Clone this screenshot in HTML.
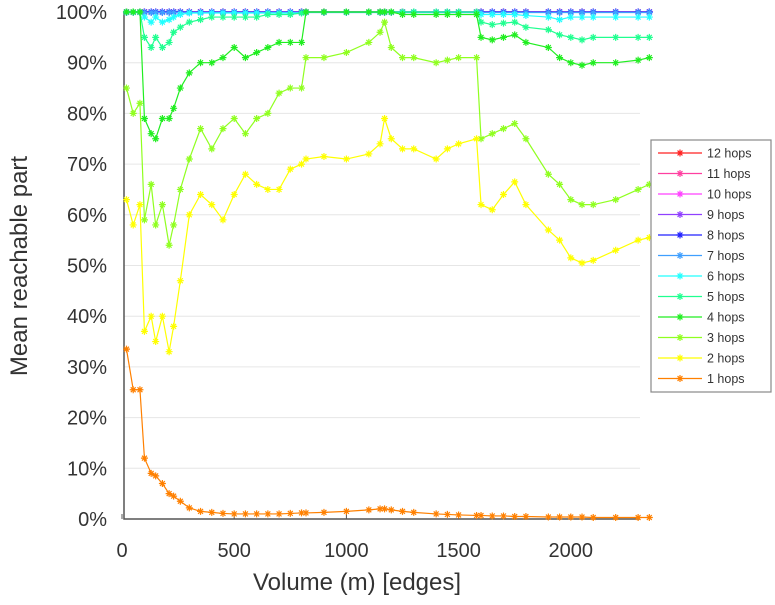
<!DOCTYPE html>
<html><head><meta charset="utf-8"><style>
body{margin:0;background:#fff}
svg text{font-family:"Liberation Sans",sans-serif;fill:#333}
</style></head><body>
<svg id="c" width="775" height="600"></svg>
<script>
const xs=[20,50,80,100,130,150,180,210,230,260,300,350,400,450,500,550,600,650,700,750,800,820,900,1000,1100,1150,1170,1200,1250,1300,1400,1450,1500,1580,1600,1650,1700,1750,1800,1900,1950,2000,2050,2100,2200,2300,2350];
const hops1=[33.5,25.5,25.5,12,9,8.5,7,5,4.5,3.5,2.2,1.5,1.3,1.1,1,1,1,1,1,1.1,1.2,1.2,1.3,1.5,1.8,2,2,1.8,1.5,1.3,1,0.9,0.8,0.7,0.7,0.6,0.6,0.5,0.5,0.4,0.4,0.4,0.4,0.3,0.3,0.3,0.3];
const hops2=[63,58,62,37,40,35,40,33,38,47,60,64,62,59,64,68,66,65,65,69,70,71,71.5,71,72,74,79,75,73,73,71,73,74,75,62,61,64,66.5,62,57,55,51.5,50.5,51,53,55,55.5];
const hops3=[85,80,82,59,66,58,62,54,58,65,71,77,73,77,79,76,79,80,84,85,85,91,91,92,94,96,98,93,91,91,90,90.5,91,91,75,76,77,78,75,68,66,63,62,62,63,65,66];
const hops4=[100,100,100,79,76,75,79,79,81,85,88,90,90,91,93,91,92,93,94,94,94,100,100,100,100,100,100,100,99.5,99.5,99.5,99.5,99.5,99.5,95,94.5,95,95.5,94,93,91,90,89.5,90,90,90.5,91];
const hops5=[100,100,100,95,93,95,93,94,96,97,98,98.5,99,99,99,99,99,99.5,99.5,99.5,99.8,100,100,100,100,100,100,100,100,100,100,100,100,100,98,97.5,97.8,98,97,96.5,95.5,95,94.5,95,95,95,95];
const hops6=[100,100,100,99,98,99,98,98.5,99,99.5,99.8,99.8,99.8,99.8,99.8,99.8,99.8,99.8,99.8,99.8,99.8,100,100,100,100,100,100,100,100,100,100,100,100,100,99.5,99.5,99.5,99.5,99.3,99,98.5,99,99,99,99,99,99];
const hops7=xs.map(()=>99.9);
const hops8=xs.map(()=>100);
const hopsHigh=xs.map(()=>100);
const series=[
 {name:"12 hops",c:"#ff2020",v:hopsHigh},{name:"11 hops",c:"#ff3fa0",v:hopsHigh},{name:"10 hops",c:"#ff40ff",v:hopsHigh},
 {name:"9 hops",c:"#9040ff",v:hopsHigh},{name:"8 hops",c:"#2020ff",v:hops8},{name:"7 hops",c:"#3f9fff",v:hops7},
 {name:"6 hops",c:"#20ffff",v:hops6},{name:"5 hops",c:"#20ff90",v:hops5},{name:"4 hops",c:"#20ee20",v:hops4},
 {name:"3 hops",c:"#90ff20",v:hops3},{name:"2 hops",c:"#ffff00",v:hops2},{name:"1 hops",c:"#ff8000",v:hops1}];
const yTicks=[0,10,20,30,40,50,60,70,80,90,100];
const xTicks=[0,500,1000,1500,2000];
const X=v=>122+v*0.2244, Y=v=>519-v*5.07;
const svg=document.getElementById('c');const NS="http://www.w3.org/2000/svg";
function mk(t,a,p){const e=document.createElementNS(NS,t);for(const k in a)e.setAttribute(k,a[k]);(p||svg).appendChild(e);return e;}
yTicks.forEach(t=>{
 const g=mk('line',{x1:124,x2:640,y1:Y(t),y2:Y(t),stroke:'#e6e6e6'});
 
 
 const tx=mk('text',{x:107,y:Y(t)+7,'text-anchor':'end','font-size':20});tx.textContent=t+'%';
 
 
});
xTicks.forEach(t=>{
 const tx=mk('text',{x:X(t),y:557,'text-anchor':'middle','font-size':20});tx.textContent=t;
 
 
 mk('line',{x1:X(t),x2:X(t),y1:519,y2:514,stroke:'#555'});
});
const ax=mk('path',{d:'M124 12V519H640',fill:'none',stroke:'#555','stroke-width':1.5});


function star(x,y,c,p){const r=3.5;mk('path',{d:`M${x-r} ${y}H${x+r}M${x} ${y-r}V${y+r}M${x-r*.7} ${y-r*.7}L${x+r*.7} ${y+r*.7}M${x-r*.7} ${y+r*.7}L${x+r*.7} ${y-r*.7}`,stroke:c,'stroke-width':1.2},p);}
series.forEach(s=>{
 const g=mk('g',{});
 
 
 mk('polyline',{points:xs.map((x,i)=>X(x)+','+Y(s.v[i])).join(' '),fill:'none',stroke:s.c,'stroke-width':1.2},g);
 xs.forEach((x,i)=>star(X(x),Y(s.v[i]),s.c,g));
});
const yt=mk('text',{x:0,y:0,'font-size':24,'text-anchor':'middle',transform:'translate(27,266) rotate(-90)'});yt.textContent='Mean reachable part';


const xt=mk('text',{x:357,y:590,'font-size':24,'text-anchor':'middle'});xt.textContent='Volume (m) [edges]';


const lg=mk('g',{});


mk('rect',{x:651,y:140,width:120,height:252,fill:'#fff',stroke:'#888','stroke-width':1.2},lg);
series.forEach((s,i)=>{
 const y=153+i*20.5;
 const e=mk('g',{},lg);
 
 
 mk('line',{x1:658,x2:702,y1:y,y2:y,stroke:s.c,'stroke-width':1.2},e);
 star(680,y,s.c,e);
 const t=mk('text',{x:707,y:y+4.5,'font-size':12.5},e);t.textContent=s.name;
});
</script>
</body></html>
